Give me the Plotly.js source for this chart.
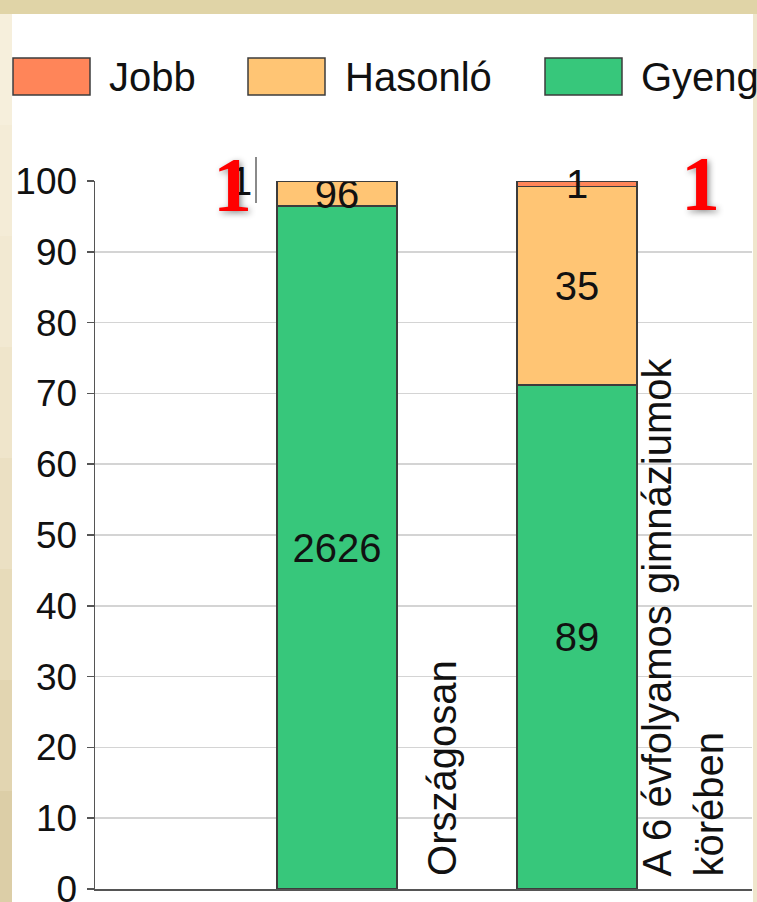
<!DOCTYPE html>
<html>
<head>
<meta charset="utf-8">
<script src="https://cdn.plot.ly/plotly-3.0.1.min.js"></script>
<style>
  html, body { margin: 0; padding: 0; background: #ffffff; }
  #chart { width: 757px; height: 902px; }
</style>
</head>
<body>
<div id="chart"></div>
<script>
// ---- data ----
const categories = ['Országosan', 'A 6 évfolyamos gimnáziumok<br>körében'];
const seriesNames = ['Jobb', 'Hasonló', 'Gyengébb'];
const jobb = [1, 1];
const hasonlo = [96, 35];
const gyengebb = [2626, 89];
const yTickVals = [0, 10, 20, 30, 40, 50, 60, 70, 80, 90, 100];
const markLabels = ['1', '1'];

// ---- styling ----
const W = 757, H = 902;
const M = { l: 95, r: 5, t: 181, b: 13 };
const PW = W - M.l - M.r, PH = H - M.t - M.b;
const px = x => (x - M.l) / PW;        // pixel -> paper x
const py = y => (H - M.b - y) / PH;    // pixel -> paper y

const colors = { jobb: '#ff8559', hasonlo: '#ffc574', gyengebb: '#37c77b' };
const outline = { color: '#3c3c3c', width: 1.5 };
const FONT = 'Liberation Sans, Arial, sans-serif';
const FS = 40;
const TFS = 37;

const xPos = categories.map((c, i) => i + 1);

const traces = [
  {
    type: 'bar', name: seriesNames[2], x: xPos, y: gyengebb,
    marker: { color: colors.gyengebb, line: outline },
    text: gyengebb.map(String), texttemplate: '%{text}',
    textposition: 'inside', insidetextanchor: 'middle', textangle: 0,
    constraintext: 'none', textfont: { family: FONT, size: FS, color: '#111' },
    width: 0.5, hoverinfo: 'skip'
  },
  {
    type: 'bar', name: seriesNames[1], x: xPos, y: hasonlo,
    marker: { color: colors.hasonlo, line: outline },
    text: hasonlo.map(String), texttemplate: '%{text}',
    textposition: 'inside', insidetextanchor: 'middle', textangle: 0,
    constraintext: 'none', textfont: { family: FONT, size: FS, color: '#111' },
    width: 0.5, hoverinfo: 'skip'
  },
  {
    type: 'bar', name: seriesNames[0], x: xPos, y: jobb,
    marker: { color: colors.jobb, line: outline },
    textposition: 'none', width: 0.5, hoverinfo: 'skip'
  }
];

// percentages (for label placement of the thin "Jobb" segment)
const totals = xPos.map((_, i) => jobb[i] + hasonlo[i] + gyengebb[i]);
const jobbPct = xPos.map((_, i) => jobb[i] / totals[i] * 100);

const shapes = [
  { type: 'rect', xref: 'paper', yref: 'paper', x0: px(0), x1: px(757), y0: py(0), y1: py(14), fillcolor: '#e0d4a7', line: { width: 0 }, layer: 'below' },
  { type: 'rect', xref: 'paper', yref: 'paper', x0: px(753), x1: px(757), y0: py(14), y1: py(902), fillcolor: '#efe6cc', line: { width: 0 }, layer: 'below' },
  { type: 'line', xref: 'paper', yref: 'paper', x0: px(256), x1: px(256), y0: py(157), y1: py(203), line: { color: '#8a8a8a', width: 2 } }
];
// left frame band, stepped gradient
const bandColors = ['#f6efdc', '#f4ecd7', '#f2e9d2', '#efe5cb', '#ebe0c3', '#e7dbba', '#e2d5b1', '#dccea7'];
bandColors.forEach((c, i) => {
  const y0 = 14 + i * 111, y1 = 14 + (i + 1) * 111;
  shapes.push({ type: 'rect', xref: 'paper', yref: 'paper', x0: px(0), x1: px(12), y0: py(y1), y1: py(y0), fillcolor: c, line: { width: 0 }, layer: 'below' });
});

// custom legend
const legendBoxes = [
  { x0: 13, x1: 90, tx: 107 },
  { x0: 248, x1: 325, tx: 343 },
  { x0: 545, x1: 622, tx: 639 }
];
const legendColors = [colors.jobb, colors.hasonlo, colors.gyengebb];
const annotations = [];
seriesNames.forEach((name, i) => {
  const b = legendBoxes[i];
  shapes.push({ type: 'rect', xref: 'paper', yref: 'paper', x0: px(b.x0), x1: px(b.x1), y0: py(95), y1: py(58),
    fillcolor: legendColors[i], line: { color: '#3c3c3c', width: 1.5 } });
  annotations.push({ xref: 'paper', yref: 'paper', x: px(b.tx), y: py(77), xanchor: 'left', yanchor: 'middle',
    text: name, showarrow: false, font: { family: FONT, size: FS, color: '#111' } });
});

// category labels (rotated)
categories.forEach((c, i) => {
  annotations.push({ xref: 'x', yref: 'y', x: xPos[i] + 0.44, y: 1.5, xanchor: 'center', yanchor: 'bottom',
    textangle: -90, align: 'left', text: c, showarrow: false, font: { family: FONT, size: FS, color: '#111' } });
});

// "Jobb" value labels
annotations.push({ xref: 'x', yref: 'y', x: xPos[0] - 0.4, y: 100 - jobbPct[0] / 2, xanchor: 'center', yanchor: 'middle',
  text: String(jobb[0]), showarrow: false, font: { family: FONT, size: FS, color: '#111' } });
annotations.push({ xref: 'x', yref: 'y', x: xPos[1], y: 100 - jobbPct[1] / 2, xanchor: 'center', yanchor: 'middle',
  text: String(jobb[1]), showarrow: false, font: { family: FONT, size: FS, color: '#111' } });

// red overlay marks
const markPos = [{ x: 232, y: 185 }, { x: 700, y: 183 }];
markLabels.forEach((t, i) => {
  annotations.push({ xref: 'paper', yref: 'paper', x: px(markPos[i].x), y: py(markPos[i].y), xanchor: 'center', yanchor: 'middle',
    text: '<b>' + t + '</b>', showarrow: false,
    font: { family: 'Liberation Serif, Times New Roman, serif', size: 78, color: '#ff0000', shadow: '2px 2px 6px rgba(0,0,0,0.45)' } });
});

const layout = {
  width: W, height: H,
  margin: M,
  paper_bgcolor: '#ffffff', plot_bgcolor: '#ffffff',
  barmode: 'stack', barnorm: 'percent',
  showlegend: false,
  font: { family: FONT, size: FS, color: '#111' },
  xaxis: {
    range: [-2 / 240, 2.7292], showticklabels: false, showgrid: false, zeroline: false,
    showline: true, linecolor: '#555', linewidth: 1.5, fixedrange: true
  },
  yaxis: {
    range: [0, 100], tickvals: yTickVals, ticktext: yTickVals.map(String),
    showgrid: true, gridcolor: '#d4d4d4', gridwidth: 1.5, zeroline: false,
    showline: true, linecolor: '#555', linewidth: 1.5,
    ticks: 'outside', ticklen: 7, tickcolor: '#555', tickwidth: 1.5,
    ticklabelstandoff: 2, ticklabeloverflow: 'allow',
    tickfont: { family: FONT, size: TFS, color: '#111' }, fixedrange: true
  },
  shapes: shapes,
  annotations: annotations
};

Plotly.newPlot('chart', traces, layout, { displayModeBar: false, staticPlot: true });
</script>
</body>
</html>
